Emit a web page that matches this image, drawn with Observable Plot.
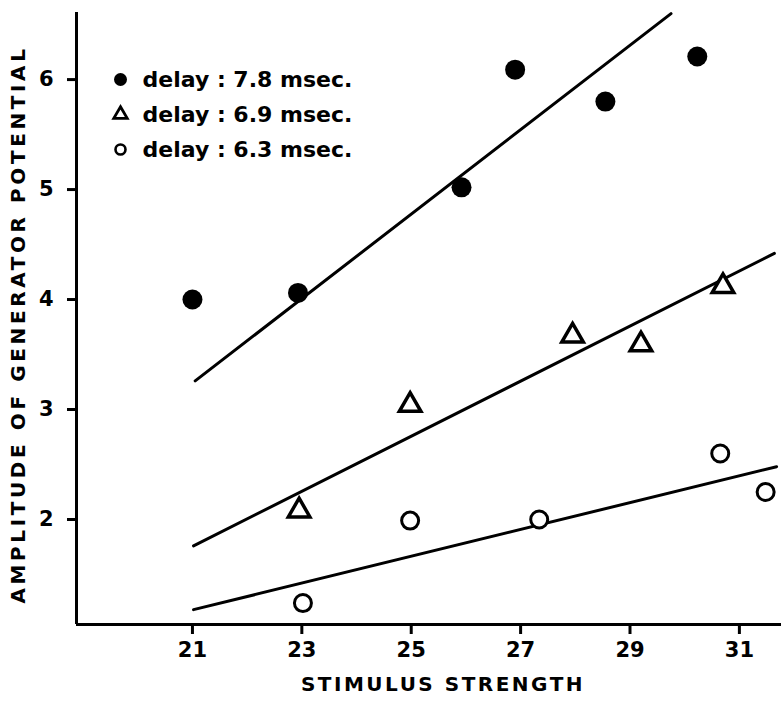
<!DOCTYPE html>
<html>
<head>
<meta charset="utf-8">
<script src="https://cdn.jsdelivr.net/npm/d3@7"></script>
<script src="https://cdn.jsdelivr.net/npm/@observablehq/plot@0.6"></script>
<style>
  html, body { margin: 0; padding: 0; background: #fff; }
  #chart svg { display: block; font-family: "DejaVu Sans", sans-serif; }
</style>
</head>
<body>
<div id="chart"></div>
<script>
// ---- data ----
const legendLabels = ["delay : 7.8 msec.", "delay : 6.9 msec.", "delay : 6.3 msec."];

const stim78 = [21.0, 22.93, 25.92, 26.9, 28.55, 30.23];
const amp78  = [4.0, 4.06, 5.02, 6.09, 5.8, 6.21];

const stim69 = [22.95, 24.98, 27.95, 29.2, 30.7];
const amp69  = [2.08, 3.04, 3.67, 3.59, 4.12];

const stim63 = [23.02, 24.98, 27.34, 30.65, 31.48];
const amp63  = [1.24, 1.99, 2.0, 2.6, 2.25];

// fitted lines (end points)
const fit78X = [21.05, 29.75], fit78Y = [3.26, 6.6];
const fit69X = [21.02, 31.64], fit69Y = [1.76, 4.42];
const fit63X = [21.02, 31.68], fit63Y = [1.18, 2.48];

const xTicks = [21, 23, 25, 27, 29, 31];
const yTicks = [2, 3, 4, 5, 6];
const xDomain = [18.88, 31.77];
const yDomain = [1.045, 6.61];
const xTitle = "STIMULUS STRENGTH";
const yTitle = "AMPLITUDE OF GENERATOR POTENTIAL";

const pts = (xs, ys) => xs.map((x, i) => ({x, y: ys[i]}));
const P78 = pts(stim78, amp78), P69 = pts(stim69, amp69), P63 = pts(stim63, amp63);
const L78 = pts(fit78X, fit78Y), L69 = pts(fit69X, fit69Y), L63 = pts(fit63X, fit63Y);

const tickFont = {fontSize: 21, fontWeight: "bold"};
const legendRowDy = [67, 102, 137];

const chart = Plot.plot({
  width: 781,
  height: 702,
  marginLeft: 76,
  marginRight: 0,
  marginTop: 12,
  marginBottom: 78,
  x: {domain: xDomain},
  y: {domain: yDomain},
  marks: [
    Plot.ruleX([xDomain[0]], {stroke: "black", strokeWidth: 3}),
    Plot.ruleY([yDomain[0]], {stroke: "black", strokeWidth: 3}),
    Plot.axisX({ticks: xTicks, tickFormat: d => String(d), tickSize: 10, tickPadding: 8, strokeWidth: 3, label: null, ...tickFont, fill: "black"}),
    Plot.axisY({ticks: yTicks, tickFormat: d => String(d), tickSize: 9, tickPadding: 14, strokeWidth: 3, label: null, ...tickFont, fill: "black"}),
    Plot.text([xTitle], {frameAnchor: "bottom", textAnchor: "middle", dx: 14, dy: 66, fontSize: 20, fontWeight: "bold", fill: "black"}),
    Plot.text([yTitle], {frameAnchor: "left", textAnchor: "middle", rotate: -90, dx: -58, dy: 6, fontSize: 20, fontWeight: "bold", fill: "black"}),
    // fitted lines
    Plot.line(L78, {x: "x", y: "y", stroke: "black", strokeWidth: 3}),
    Plot.line(L69, {x: "x", y: "y", stroke: "black", strokeWidth: 3}),
    Plot.line(L63, {x: "x", y: "y", stroke: "black", strokeWidth: 3}),
    // data points
    Plot.dot(P78, {x: "x", y: "y", r: 10, fill: "black", stroke: "none"}),
    Plot.dot(P69, {x: "x", y: "y", r: 8, symbol: "triangle", fill: "white", stroke: "black", strokeWidth: 3.5}),
    Plot.dot(P63, {x: "x", y: "y", r: 8.5, fill: "white", stroke: "black", strokeWidth: 3}),
    // legend
    Plot.dot([legendLabels[0]], {frameAnchor: "top-left", dx: 44, dy: legendRowDy[0], r: 6.5, fill: "black", stroke: "none"}),
    Plot.dot([legendLabels[1]], {frameAnchor: "top-left", dx: 44, dy: legendRowDy[1], r: 5, symbol: "triangle", fill: "white", stroke: "black", strokeWidth: 2.8}),
    Plot.dot([legendLabels[2]], {frameAnchor: "top-left", dx: 44, dy: legendRowDy[2], r: 5, fill: "white", stroke: "black", strokeWidth: 2.6}),
    ...legendLabels.map((t, i) => Plot.text([t], {frameAnchor: "top-left", dx: 66, dy: legendRowDy[i], textAnchor: "start", lineAnchor: "middle", fontSize: 22, fontWeight: "bold", fill: "black"}))
  ]
});
d3.select(chart).selectAll("text").style("font-family", "'DejaVu Sans', sans-serif");
// wide lettering for the axis titles, as in the hand-lettered original
d3.select(chart).selectAll("text").filter(function () { return this.textContent === xTitle; }).style("letter-spacing", "2.5px");
d3.select(chart).selectAll("text").filter(function () { return this.textContent === yTitle; }).style("letter-spacing", "3.6px");
document.getElementById("chart").appendChild(chart);
</script>
</body>
</html>
